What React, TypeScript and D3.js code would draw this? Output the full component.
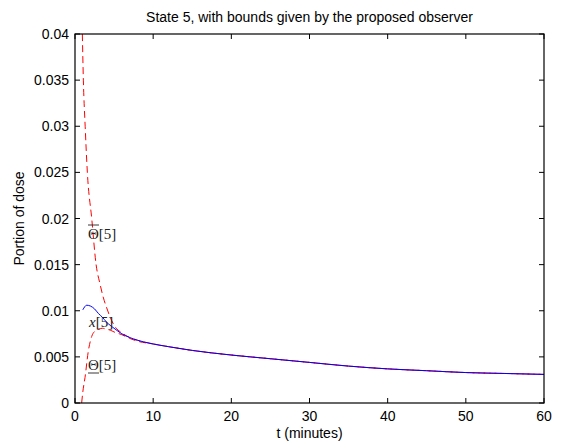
import React from "react";
import * as d3 from "d3";

const stateT = [1.0, 1.5, 2, 2.5, 3, 3.5, 4, 5, 6, 7, 8, 10, 12, 15, 20, 25, 30, 35, 40, 45, 50, 55, 60];
const stateV = [0.0101, 0.0106, 0.0105, 0.0102, 0.0097, 0.0093, 0.0088, 0.0081, 0.0075, 0.0071, 0.0068, 0.0064, 0.0061, 0.0057, 0.0052, 0.0048, 0.0044, 0.0040, 0.0037, 0.0035, 0.0033, 0.0032, 0.0031];

const upperT = [0.94, 1.07, 1.3, 1.58, 2.14, 2.7, 3.2, 3.6, 4.06, 4.5, 5.1, 6, 7, 8, 10, 12, 15, 20, 25, 30, 35, 40, 45, 50, 55, 60];
const upperV = [0.04, 0.035, 0.03, 0.025, 0.02, 0.015, 0.0129, 0.0115, 0.0103, 0.0093, 0.0083, 0.0076, 0.0071, 0.0068, 0.0064, 0.0061, 0.0057, 0.0052, 0.0048, 0.0044, 0.0040, 0.0037, 0.0035, 0.0033, 0.0032, 0.0031];

const lowerT = [0.85, 1.0, 1.28, 1.7, 2.13, 2.56, 3, 3.5, 4, 4.5, 5, 6, 7, 8, 10, 12, 15, 20, 25, 30, 35, 40, 45, 50, 55, 60];
const lowerV = [0, 0.0012, 0.00275, 0.0056, 0.0072, 0.0078, 0.0080, 0.0081, 0.0080, 0.0079, 0.0077, 0.0074, 0.0070, 0.0067, 0.0064, 0.0061, 0.0057, 0.0052, 0.0048, 0.0044, 0.0040, 0.0037, 0.0035, 0.0033, 0.0032, 0.0031];

const xTicks = [0, 10, 20, 30, 40, 50, 60];
const yTicks = [0, 0.005, 0.01, 0.015, 0.02, 0.025, 0.03, 0.035, 0.04];
const yTickLabels = ["0", "0.005", "0.01", "0.015", "0.02", "0.025", "0.03", "0.035", "0.04"];

const W = 561, H = 443;
const L = 75, R = 544, T = 34, B = 403;

export default function App() {
  const x = d3.scaleLinear().domain([0, 60]).range([L, R]);
  const y = d3.scaleLinear().domain([0, 0.04]).range([B, T]);
  const line = d3.line<[number, number]>().x(d => x(d[0])).y(d => y(d[1])).curve(d3.curveMonotoneX);
  const mk = (ts: number[], vs: number[]) => ts.map((t, i) => [t, vs[i]] as [number, number]);
  const font = "'Liberation Sans', Arial, Helvetica, sans-serif";
  const serif = "'Liberation Serif', 'DejaVu Serif', serif";
  const tl = 5;
  const fs = 14;
  return (
    <svg width={W} height={H} style={{ position: "absolute", left: 0, top: 0, background: "#fff" }} fontFamily={font}>
      <defs>
        <clipPath id="plotclip"><rect x={L} y={T} width={R - L} height={B - T} /></clipPath>
      </defs>
      <rect x={0} y={0} width={W} height={H} fill="#fff" />
      <g clipPath="url(#plotclip)" fill="none">
        <path d={line(mk(upperT, upperV)) || ""} stroke="#ff0000" strokeWidth={1} strokeDasharray="7,4" />
        <path d={line(mk(lowerT, lowerV)) || ""} stroke="#ff0000" strokeWidth={1} strokeDasharray="7,4" />
        <path d={line(mk(stateT, stateV)) || ""} stroke="#0000ff" strokeWidth={1} />
      </g>
      <rect x={L} y={T} width={R - L} height={B - T} fill="none" stroke="#000" strokeWidth={1.2} />
      {xTicks.map(t => (
        <g key={"x" + t}>
          <line x1={x(t)} x2={x(t)} y1={B} y2={B - tl} stroke="#000" />
          <line x1={x(t)} x2={x(t)} y1={T} y2={T + tl} stroke="#000" />
          <text x={x(t)} y={B + 18} textAnchor="middle" fontSize={fs}>{t}</text>
        </g>
      ))}
      {yTicks.map((v, i) => (
        <g key={"y" + i}>
          <line x1={L} x2={L + tl} y1={y(v)} y2={y(v)} stroke="#000" />
          <line x1={R} x2={R - tl} y1={y(v)} y2={y(v)} stroke="#000" />
          <text x={L - 6} y={y(v) + 5} textAnchor="end" fontSize={fs}>{yTickLabels[i]}</text>
        </g>
      ))}
      <text x={(L + R) / 2} y={22} textAnchor="middle" fontSize={fs}>State 5, with bounds given by the proposed observer</text>
      <text x={(L + R) / 2} y={438} textAnchor="middle" fontSize={fs}>t (minutes)</text>
      <text transform={`translate(24,${(T + B) / 2}) rotate(-90)`} textAnchor="middle" fontSize={fs}>Portion of dose</text>
      <g fontFamily={serif} fontSize={15} fill="#222">
        <text x={88} y={239}>Θ[5]</text>
        <line x1={88} x2={99} y1={225} y2={225} stroke="#222" strokeWidth={0.9} />
        <text x={89} y={327}><tspan fontStyle="italic">x</tspan>[5]</text>
        <text x={88} y={370}>Θ[5]</text>
        <line x1={88} x2={99} y1={373} y2={373} stroke="#222" strokeWidth={0.9} />
      </g>
    </svg>
  );
}
